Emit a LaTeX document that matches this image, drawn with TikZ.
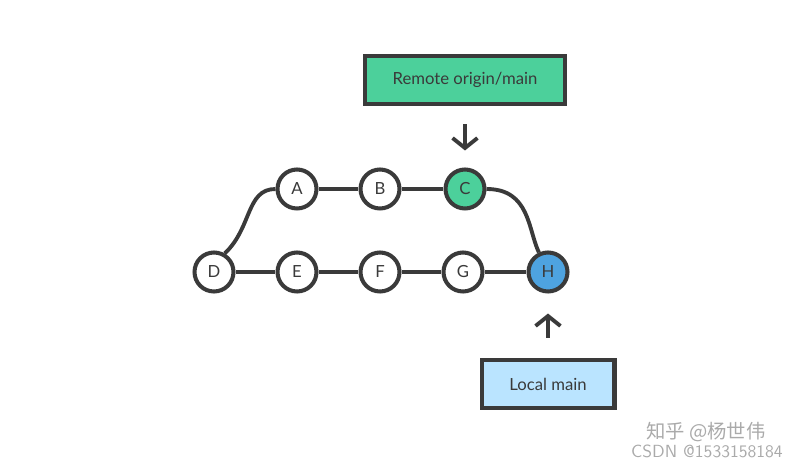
\documentclass[tikz,border=0pt]{standalone}
\usepackage{fontspec}
\setmainfont{Lato}
\newfontfamily\cjkfont{Noto Sans CJK SC}
\usetikzlibrary{arrows.meta}
\definecolor{commitgreen}{RGB}{76,208,155}
\definecolor{commitblue}{RGB}{78,163,224}
\definecolor{labelblue}{RGB}{186,228,255}
\definecolor{inkgray}{RGB}{58,58,58}
\definecolor{markgray}{RGB}{170,170,170}

\begin{document}
\begin{tikzpicture}[
    x=0.02cm, y=-0.02cm,
    every node/.style={font=\fontsize{9.5}{11}\selectfont, text=inkgray},
    commit/.style={circle, draw=inkgray, line width=2.3pt, fill=white, minimum size=0.78cm, inner sep=0pt},
    remotecommit/.style={commit, fill=commitgreen},
    localcommit/.style={commit, fill=commitblue},
    branch/.style={rectangle, draw=inkgray, line width=2.3pt, minimum height=0.97cm},
    link/.style={draw=inkgray, line width=2.2pt},
    pointer/.style={draw=inkgray, line width=2.2pt, -{Straight Barb[length=0.2cm, width=0.5cm]}},
    watermark/.style={text=markgray}
]
    \useasboundingbox (0,0) rectangle (800,465);

% -------------------------
% Branch labels
% -------------------------
    \node[branch, fill=commitgreen, minimum width=4cm] (remote) at (465,80) {Remote origin/main};
    \node[branch, fill=labelblue, minimum width=2.66cm] (local) at (548,384) {Local main};

% -------------------------
% Commits
% -------------------------
    \node[commit] (D) at (214,272) {D};
    \node[commit] (E) at (297,272) {E};
    \node[commit] (F) at (380,272) {F};
    \node[commit] (G) at (463,272) {G};
    \node[localcommit] (H) at (548,272) {H};

    \node[commit] (A) at (297,189) {A};
    \node[commit] (B) at (380,189) {B};
    \node[remotecommit] (C) at (465,189) {C};

% -------------------------
% History
% -------------------------
    \path[link] (D) -- (E) (E) -- (F) (F) -- (G) (G) -- (H);
    \path[link] (A) -- (B) (B) -- (C);
    \path[link] (D.60) .. controls (252,228) and (246,189) .. (A.west);
    \path[link] (C.east) .. controls (530,189) and (528,230) .. (H.115);

% -------------------------
% Pointers
% -------------------------
    \path[pointer] ([yshift=-0.36cm]remote.south) -- ([yshift=0.34cm]C.north);
    \path[pointer] ([yshift=0.4cm]local.north) -- ([yshift=-0.4cm]H.south);

    % watermark
    \node[watermark, font=\cjkfont\fontsize{11}{13}\selectfont] (mark1) at (706,432) {知乎 @杨世伟};
    \node[watermark, font=\fontsize{10}{12}\selectfont\sffamily] (mark2) at (707,451) {CSDN @1533158184};
\end{tikzpicture}
\end{document}
